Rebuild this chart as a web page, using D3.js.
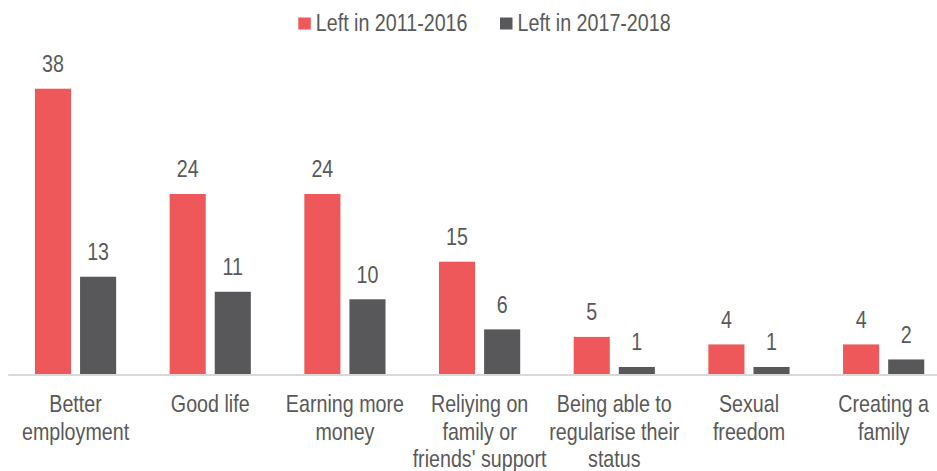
<!DOCTYPE html>
<html>
<head>
<meta charset="utf-8">
<script src="https://cdn.jsdelivr.net/npm/d3@7"></script>
<style>
  html, body { margin: 0; padding: 0; background: #fff; }
  svg { display: block; }
  text { font-family: "Liberation Sans", Arial, sans-serif; fill: #595959; }
</style>
</head>
<body>
<svg id="chart" width="937" height="471"></svg>
<script>
const categories = [
  "Better\nemployment",
  "Good life",
  "Earning more\nmoney",
  "Reliying on\nfamily or\nfriends' support",
  "Being able to\nregularise their\nstatus",
  "Sexual\nfreedom",
  "Creating a\nfamily"
];
const seriesNames = ["Left in 2011-2016", "Left in 2017-2018"];
const left2011_2016 = [38, 24, 24, 15, 5, 4, 4];
const left2017_2018 = [13, 11, 10, 6, 1, 1, 2];
const seriesColors = ["#EF585A", "#58585A"];

const seriesValues = [left2011_2016, left2017_2018];
const data = categories.map((c, i) => ({
  cat: c,
  vals: seriesNames.map((s, j) => ({ series: s, value: seriesValues[j][i] }))
}));

const NARROW = 0.82; // emulate a narrow sans face
const svg = d3.select("#chart");
const baseY = 374.5;

const x0 = d3.scaleBand().domain(categories).range([8.2, 951]).paddingInner(0).paddingOuter(0);
const x1 = d3.scaleBand().domain(seriesNames).range([0, x0.bandwidth()]).paddingInner(0.2).paddingOuter(0.593);
const y = d3.scaleLinear().domain([0, 38]).range([baseY, 88.7]);
const color = d3.scaleOrdinal().domain(seriesNames).range(seriesColors);

const groups = svg.append("g").selectAll("g").data(data).join("g")
  .attr("transform", d => `translate(${x0(d.cat)},0)`);

groups.selectAll("rect").data(d => d.vals).join("rect")
  .attr("x", d => x1(d.series))
  .attr("width", x1.bandwidth())
  .attr("y", d => y(d.value))
  .attr("height", d => baseY - y(d.value))
  .attr("fill", d => color(d.series));

groups.selectAll("text.val").data(d => d.vals).join("text")
  .attr("class", "val")
  .attr("transform", d => `translate(${x1(d.series) + x1.bandwidth() / 2},${y(d.value) - 16.5}) scale(${NARROW},1)`)
  .attr("text-anchor", "middle")
  .attr("font-size", 24)
  .text(d => d.value);

// axis line
svg.append("line")
  .attr("x1", x0.range()[0]).attr("x2", x0.range()[1])
  .attr("y1", baseY + 0.5).attr("y2", baseY + 0.5)
  .attr("stroke", "#D9D9D9").attr("stroke-width", 2);

// category labels
const xAxis = d3.axisBottom(x0).tickSize(0).tickFormat(() => "");
const axisG = svg.append("g").attr("transform", `translate(0,${baseY})`).call(xAxis);
axisG.select(".domain").remove();
axisG.selectAll(".tick").each(function(d) {
  const t = d3.select(this).append("text")
    .attr("text-anchor", "middle")
    .attr("font-size", 24)
    .attr("transform", `translate(0,37.5) scale(${NARROW},1)`);
  d.split("\n").forEach((line, i) => {
    t.append("tspan").attr("x", 0).attr("dy", i === 0 ? 0 : 27.7).text(line);
  });
});

// legend
const legendX = [298.3, 500];
const leg = svg.append("g").selectAll("g").data(seriesNames).join("g")
  .attr("transform", (d, i) => `translate(${legendX[i]},0)`);
leg.append("rect").attr("x", 0).attr("y", 17.5).attr("width", 12.5).attr("height", 12).attr("fill", d => color(d));
leg.append("text").attr("transform", `translate(17.5,31) scale(${NARROW},1)`).attr("font-size", 24).text(d => d);
</script>
</body>
</html>
